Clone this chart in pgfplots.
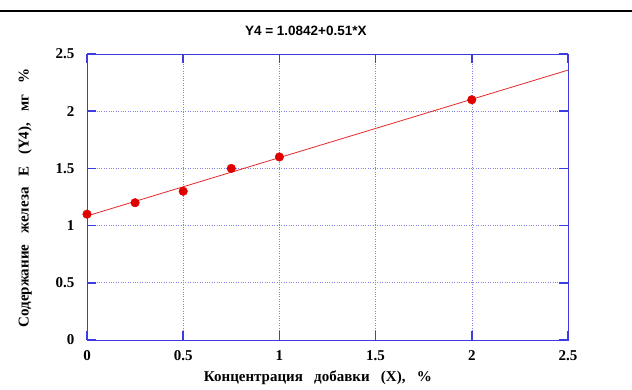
\documentclass[border=0pt]{standalone}
\usepackage{fontspec}
\setmainfont{Liberation Serif}
\newfontfamily\arial{Liberation Sans}
\usepackage{pgfplots}
\pgfplotsset{compat=1.18}
\definecolor{axblue}{RGB}{60,60,225}
\definecolor{gridblue}{RGB}{130,130,235}
\definecolor{ptred}{RGB}{225,0,0}
\definecolor{lnred}{RGB}{230,40,40}
\begin{document}
\begin{tikzpicture}[x=1pt,y=1pt]
\path[use as bounding box] (0,0) rectangle (632,390);
\fill[white] (0,0) rectangle (632,390);
\draw[line width=2pt] (0,379) -- (632,379);
\begin{axis}[
  at={(87pt,50pt)}, anchor=south west,
  scale only axis, width=481pt, height=286pt,
  xmin=0, xmax=2.5, ymin=0, ymax=2.5,
  xtick={0,0.5,1,1.5,2,2.5},
  ytick={0,0.5,1,1.5,2,2.5},
  grid=major,
  grid style={dotted, gridblue, line width=0.6pt},
  axis line style={axblue, line width=0.9pt},
  major tick length=9pt,
  tick style={axblue, line width=1.5pt, solid},
  tick align=inside,
  clip=false,
  /pgf/number format/assume math mode=true,
  tick label style={font=\bfseries\fontsize{15}{15}\selectfont, black},
  yticklabel style={xshift=-9pt},
  xticklabel style={yshift=-7pt},
  title={Y4 = 1.0842+0.51*X},
  title style={font=\arial\bfseries\fontsize{13.5}{14}\selectfont, at={(axis description cs:0.455,1.06)}, anchor=center},
  xlabel={Концентрация\ \ \ добавки\ \ \ (X),\ \ \ \%},
  xlabel style={font=\bfseries\fontsize{15}{15}\selectfont, at={(axis description cs:0.48,-0.133)}, anchor=center},
  ylabel={Содержание\ \ \ железа\ \ \ Е\ \ \ (Y4),\ \ \ мг\ \ \ \%},
  ylabel style={font=\bfseries\fontsize{15}{15}\selectfont, at={(axis description cs:-0.129,0.497)}, anchor=center},
]
\addplot[lnred, line width=0.8pt, no marks] coordinates {(0,1.0842) (2.5,2.3592)};
\addplot[only marks, mark=*, mark size=4.3pt, ptred, mark options={fill=ptred, draw=ptred}] coordinates {(0,1.1) (0.25,1.2) (0.5,1.3) (0.75,1.5) (1,1.6) (2,2.1)};
\end{axis}
\end{tikzpicture}
\end{document}
